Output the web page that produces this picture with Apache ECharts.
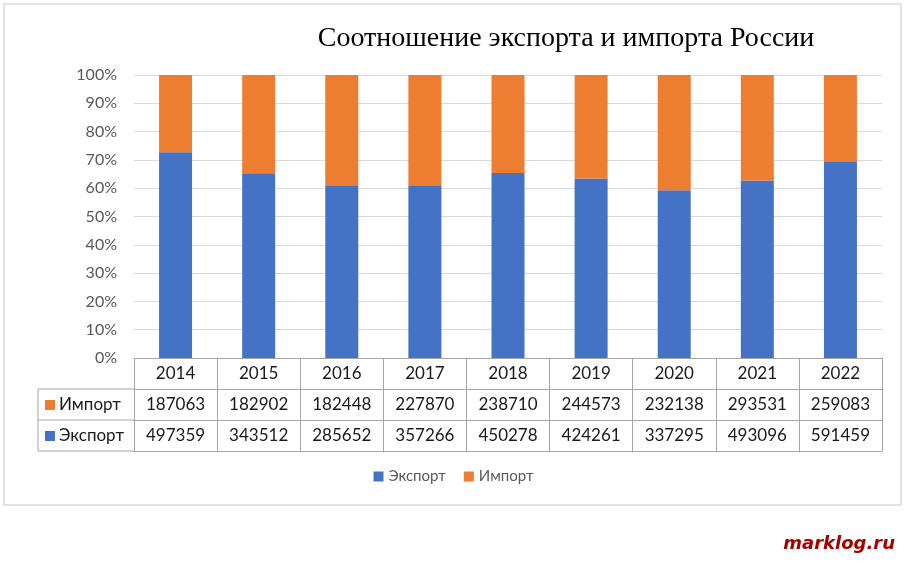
<!DOCTYPE html>
<html>
<head>
<meta charset="utf-8">
<script src="https://cdn.jsdelivr.net/npm/echarts@6/dist/echarts.min.js"></script>
<style>
  html, body { margin: 0; padding: 0; background: #fff; }
  #chart { width: 907px; height: 566px; }
</style>
</head>
<body>
<div id="chart"></div>
<script>
// данные
const years = ["2014", "2015", "2016", "2017", "2018", "2019", "2020", "2021", "2022"]
const importValues = [187063, 182902, 182448, 227870, 238710, 244573, 232138, 293531, 259083]
const exportValues = [497359, 343512, 285652, 357266, 450278, 424261, 337295, 493096, 591459]
const yTicks = [0, 10, 20, 30, 40, 50, 60, 70, 80, 90, 100]

const BLUE = "#4472C4"
const ORANGE = "#ED7D31"
const TABLE_LINE = "#a6a6a6"

// доли в процентах (100% stacked)
const exportPct = exportValues.map((v, i) => v * 100 / (v + importValues[i]))
const importPct = importValues.map((v, i) => v * 100 / (v + exportValues[i]))

const gridLeft = 134, gridRight = 25, gridTop = 75, gridBottom = 208
const rowH = 31
const axisBottomY = 566 - gridBottom
const tableLeft = 38

const myChart = echarts.init(document.getElementById("chart"))

const tableAxis = (data, offset, showTick) => ({
  type: "category",
  position: "bottom",
  offset: offset,
  data: data,
  axisLine: { show: true, lineStyle: { color: TABLE_LINE, width: 1 } },
  axisTick: { show: showTick, interval: 0, length: rowH, lineStyle: { color: TABLE_LINE } },
  axisLabel: { show: showTick, interval: 0, margin: 7, fontFamily: "Lato", fontSize: 17, color: "#1a1a1a" },
  splitLine: { show: false }
})

const option = {
  backgroundColor: "#fff",
  animation: false,
  title: {
    text: "Соотношение экспорта и импорта России",
    left: 561,
    textAlign: "center",
    top: 20,
    textStyle: { fontFamily: "Liberation Serif", fontSize: 28, fontWeight: "normal", color: "#000" }
  },
  legend: {
    data: ["Экспорт", "Импорт"],
    bottom: 77,
    left: "center",
    icon: "rect",
    itemWidth: 10,
    itemHeight: 10,
    itemGap: 18,
    textStyle: { fontFamily: "Lato", fontSize: 15, color: "#595959" }
  },
  grid: { left: gridLeft, right: gridRight, top: gridTop, bottom: gridBottom, containLabel: false },
  xAxis: [
    tableAxis(years, 0, true),
    tableAxis(importValues.map(String), rowH, true),
    tableAxis(exportValues.map(String), rowH * 2, true),
    tableAxis(years, rowH * 3, false)
  ],
  yAxis: {
    type: "value",
    min: 0,
    max: 100,
    interval: 10,
    axisLine: { show: false },
    axisTick: { show: false },
    axisLabel: { formatter: "{value}%", fontFamily: "Lato", fontSize: 16, color: "#595959", margin: 17 },
    splitLine: { lineStyle: { color: "#d9d9d9", width: 1 } }
  },
  series: [
    { name: "Экспорт", type: "bar", stack: "total", barWidth: 33, itemStyle: { color: BLUE }, data: exportPct },
    { name: "Импорт", type: "bar", stack: "total", barWidth: 33, itemStyle: { color: ORANGE }, data: importPct }
  ],
  graphic: [
    // рамка диаграммы
    { type: "rect", shape: { x: 4, y: 4, width: 897, height: 501 }, style: { fill: "none", stroke: "#d9d9d9", lineWidth: 1.5 }, z: -1 },
    // левая колонка таблицы
    { type: "line", shape: { x1: tableLeft, y1: axisBottomY + rowH, x2: gridLeft, y2: axisBottomY + rowH }, style: { stroke: TABLE_LINE } },
    { type: "line", shape: { x1: tableLeft, y1: axisBottomY + rowH * 2, x2: gridLeft, y2: axisBottomY + rowH * 2 }, style: { stroke: TABLE_LINE } },
    { type: "line", shape: { x1: tableLeft, y1: axisBottomY + rowH * 3, x2: gridLeft, y2: axisBottomY + rowH * 3 }, style: { stroke: TABLE_LINE } },
    { type: "line", shape: { x1: tableLeft, y1: axisBottomY + rowH, x2: tableLeft, y2: axisBottomY + rowH * 3 }, style: { stroke: TABLE_LINE } },
    { type: "rect", shape: { x: 45, y: axisBottomY + rowH + 11, width: 10, height: 10 }, style: { fill: ORANGE } },
    { type: "text", x: 59, y: axisBottomY + rowH * 1.5, style: { text: "Импорт", fontFamily: "Lato", fontSize: 17, fill: "#1a1a1a", verticalAlign: "middle" } },
    { type: "rect", shape: { x: 45, y: axisBottomY + rowH * 2 + 11, width: 10, height: 10 }, style: { fill: BLUE } },
    { type: "text", x: 59, y: axisBottomY + rowH * 2.5, style: { text: "Экспорт", fontFamily: "Lato", fontSize: 17, fill: "#1a1a1a", verticalAlign: "middle" } },
    // подпись источника
    { type: "text", right: 12, top: 535, style: { text: "marklog.ru", fontFamily: "DejaVu Sans", fontSize: 18, fontWeight: "bold", fontStyle: "italic", fill: "#a50000" } }
  ]
}

myChart.setOption(option)
</script>
</body>
</html>
